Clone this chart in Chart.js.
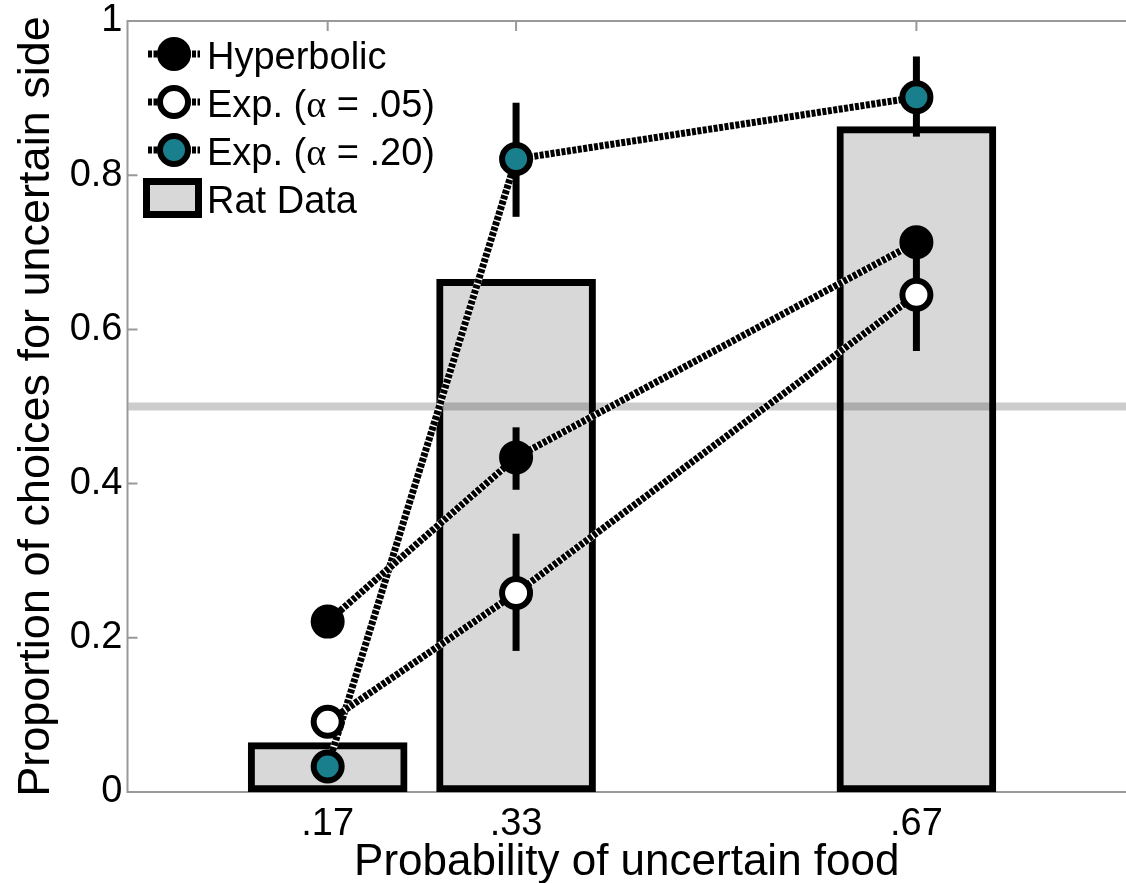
<!DOCTYPE html>
<html>
<head>
<meta charset="utf-8">
<script src="https://cdn.jsdelivr.net/npm/chart.js@4.4.1/dist/chart.umd.min.js"></script>
<style>
  html, body { margin: 0; padding: 0; background: #fff; }
</style>
</head>
<body>
<canvas id="rat-chart" width="1126" height="883"></canvas>
<script>
// Probability of food on the uncertain side
const probabilities = [0.17, 0.33, 0.67];
const probabilityLabels = [".17", ".33", ".67"];
const yTicks = [0, 0.2, 0.4, 0.6, 0.8, 1];
const yTickLabels = ["0", "0.2", "0.4", "0.6", "0.8", "1"];

// Rat data (bars)
const ratData = [0.064, 0.665, 0.863];

// Model predictions
const hyperbolic = [0.221, 0.434, 0.713];
const exp05 = [0.091, 0.258, 0.645];
const exp20 = [0.033, 0.821, 0.901];

// Error bars [low, high], null = none shown
const hyperbolicErr = [null, [0.392, 0.473], null];
const exp05Err = [null, [0.183, 0.335], [0.572, 0.718]];
const exp20Err = [null, [0.746, 0.894], [0.850, 0.954]];

const chanceLevel = 0.5;

const FONT = '"Liberation Sans", Arial, sans-serif';
Chart.defaults.font.family = FONT;
Chart.defaults.color = "#000";

const toPoints = (values) => values.map((v, i) => ({ x: probabilities[i], y: v }));

// axis box + inner tick marks (drawn under the bars)
const framePlugin = {
  id: "frame",
  beforeDatasetsDraw(chart) {
    const { ctx, chartArea: a, scales } = chart;
    ctx.save();
    ctx.strokeStyle = "#999";
    ctx.lineWidth = 2;
    ctx.beginPath();
    ctx.moveTo(a.right, a.top);
    ctx.lineTo(a.left, a.top);
    ctx.lineTo(a.left, a.bottom);
    ctx.lineTo(a.right, a.bottom);
    scales.y.ticks.forEach((t) => {
      const py = scales.y.getPixelForValue(t.value);
      ctx.moveTo(a.left, py);
      ctx.lineTo(a.left + 10, py);
    });
    scales.x.ticks.forEach((t) => {
      const px = scales.x.getPixelForValue(t.value);
      ctx.moveTo(px, a.top);
      ctx.lineTo(px, a.top + 10);
      ctx.moveTo(px, a.bottom);
      ctx.lineTo(px, a.bottom - 10);
    });
    ctx.stroke();
    ctx.restore();
  },
};

// white under the dotted lines, error bars, and the 0.5 line
const seriesPlugin = {
  id: "series",
  beforeDatasetDraw(chart, args) {
    const ds = chart.data.datasets[args.index];
    if (ds.type !== "line") return;
    const { ctx } = chart;
    const pts = args.meta.data;
    const y = chart.scales.y;
    ctx.save();
    ctx.strokeStyle = "#fff";
    ctx.lineWidth = ds.borderWidth;
    ctx.beginPath();
    pts.forEach((p, i) => (i ? ctx.lineTo(p.x, p.y) : ctx.moveTo(p.x, p.y)));
    ctx.stroke();

    ctx.strokeStyle = "#000";
    ctx.lineWidth = 7;
    ds.errors.forEach((e, i) => {
      if (!e) return;
      ctx.beginPath();
      ctx.moveTo(pts[i].x, y.getPixelForValue(e[0]));
      ctx.lineTo(pts[i].x, y.getPixelForValue(e[1]));
      ctx.stroke();
    });
    ctx.restore();
  },
  afterDatasetDraw(chart, args) {
    const ds = chart.data.datasets[args.index];
    if (ds.type !== "bar") return;
    const { ctx, chartArea: a } = chart;
    const py = chart.scales.y.getPixelForValue(chanceLevel);
    ctx.save();
    ctx.strokeStyle = "rgba(0,0,0,0.2)";
    ctx.lineWidth = 8;
    ctx.beginPath();
    ctx.moveTo(a.left + 1, py);
    ctx.lineTo(a.right, py);
    ctx.stroke();
    ctx.restore();
  },
};

// legend inside the plot, top-left
const legendTop = 54;
const legendRowGap = 48;
const legendPlugin = {
  id: "insideLegend",
  afterDraw(chart) {
    const { ctx } = chart;
    const x0 = 148, x1 = 200, mx = 174, textX = 207;
    ctx.save();
    chart.data.datasets.forEach((ds, i) => {
      const cy = legendTop + i * legendRowGap;
      if (ds.type === "line") {
        ctx.lineWidth = ds.borderWidth;
        ctx.strokeStyle = "#fff";
        ctx.beginPath();
        ctx.moveTo(x0, cy);
        ctx.lineTo(x1, cy);
        ctx.stroke();
        ctx.setLineDash(ds.borderDash);
        ctx.strokeStyle = "#000";
        ctx.beginPath();
        ctx.moveTo(x0, cy);
        ctx.lineTo(x1, cy);
        ctx.stroke();
        ctx.setLineDash([]);
        ctx.beginPath();
        ctx.arc(mx, cy, ds.pointRadius, 0, Math.PI * 2);
        ctx.fillStyle = ds.pointBackgroundColor;
        ctx.fill();
        ctx.lineWidth = ds.pointBorderWidth;
        ctx.strokeStyle = ds.pointBorderColor;
        ctx.stroke();
      } else {
        ctx.fillStyle = ds.backgroundColor;
        ctx.fillRect(146.5, cy - 16.5, 52, 33);
        ctx.lineWidth = ds.borderWidth;
        ctx.strokeStyle = ds.borderColor;
        ctx.strokeRect(146.5, cy - 16.5, 52, 33);
      }
      // label, alpha set in a serif face like the original
      ctx.fillStyle = "#000";
      ctx.textBaseline = "alphabetic";
      let tx = textX;
      ds.label.split(/(α)/).forEach((part) => {
        if (!part) return;
        ctx.font = part === "α" ? '38px "Liberation Serif", serif' : "38px " + FONT;
        ctx.fillText(part, tx, cy + 15);
        tx += ctx.measureText(part).width;
      });
    });
    ctx.restore();
  },
};

const lineStyle = {
  type: "line",
  borderColor: "#000",
  borderWidth: 7,
  borderDash: [4, 1.5],
  pointRadius: 14,
  pointBorderWidth: 6,
  pointBorderColor: "#000",
  fill: false,
  tension: 0,
};

const ctx = document.getElementById("rat-chart").getContext("2d");
const ratChart = new Chart(ctx, {
  type: "bar",
  data: {
    datasets: [
      { ...lineStyle, label: "Hyperbolic", data: toPoints(hyperbolic), errors: hyperbolicErr, pointBackgroundColor: "#000" },
      { ...lineStyle, label: "Exp. (α = .05)", data: toPoints(exp05), errors: exp05Err, pointBackgroundColor: "#fff" },
      { ...lineStyle, label: "Exp. (α = .20)", data: toPoints(exp20), errors: exp20Err, pointBackgroundColor: "#1a7f8c" },
      {
        type: "bar",
        label: "Rat Data",
        data: toPoints(ratData),
        backgroundColor: "#d8d8d8",
        borderColor: "#000",
        borderWidth: 7,
        borderSkipped: false,
        barThickness: 159,
      },
    ],
  },
  options: {
    responsive: false,
    animation: false,
    events: [],
    layout: { autoPadding: false, padding: { top: 21, right: 0, bottom: 0, left: 0 } },
    plugins: { legend: { display: false }, tooltip: { enabled: false } },
    scales: {
      x: {
        type: "linear",
        min: 0,
        max: 0.848,
        offset: false,
        grid: { display: false, drawTicks: false },
        border: { display: false },
        afterBuildTicks: (s) => { s.ticks = probabilities.map((v) => ({ value: v })); },
        ticks: {
          callback: (v, i) => probabilityLabels[i],
          font: { size: 38 },
          padding: 10,
          maxRotation: 0,
          autoSkip: false,
        },
        title: {
          display: true,
          text: "Probability of uncertain food",
          font: { size: 44, lineHeight: 1 },
          padding: { top: 0, bottom: -2 },
        },
        afterFit: (s) => {
          s.height = 91;
          s.paddingLeft = 0;
          s.paddingRight = 0;
        },
      },
      y: {
        min: 0,
        max: 1,
        grid: { display: false, drawTicks: false },
        border: { display: false },
        afterBuildTicks: (s) => { s.ticks = yTicks.map((v) => ({ value: v })); },
        ticks: {
          callback: (v, i) => yTickLabels[i],
          font: { size: 38 },
          padding: 5,
        },
        title: {
          display: true,
          text: "Proportion of choices for uncertain side",
          font: { size: 45 },
          padding: { top: 10, bottom: 0 },
        },
        afterFit: (s) => {
          s.width = 127.5;
          s.paddingTop = 0;
          s.paddingBottom = 0;
        },
      },
    },
  },
  plugins: [framePlugin, seriesPlugin, legendPlugin],
});
</script>
</body>
</html>
